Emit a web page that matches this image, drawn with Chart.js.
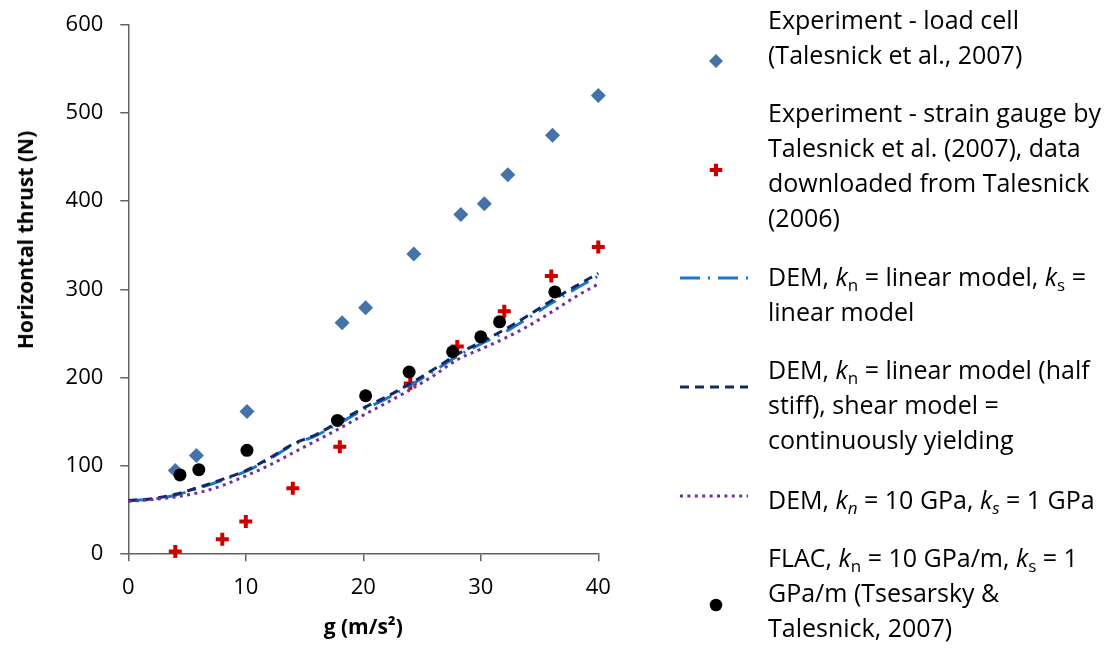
<!DOCTYPE html>
<html>
<head>
<meta charset="utf-8">
<script src="https://cdn.jsdelivr.net/npm/chart.js@4/dist/chart.umd.min.js"></script>
<style>
  body { margin: 0; background: #fff; font-family: "Open Sans", sans-serif; }
  #wrap { position: relative; width: 1113px; height: 650px; }
  #chart { position: absolute; left: 0; top: 0; }
  .lg { position: absolute; left: 768px; font-size: 25px; line-height: 35px; white-space: nowrap; color: #000; }
  .lg sub { font-size: 0.68em; vertical-align: -0.3em; line-height: 0; }
  #ytitle { position: absolute; left: 25px; top: 240px; transform: translate(-50%, -50%) rotate(-90deg);
            font-weight: bold; font-size: 21px; white-space: nowrap; }
</style>
</head>
<body>
<div id="wrap">
  <canvas id="chart" width="1113" height="650"></canvas>
  <div id="ytitle">Horizontal thrust (N)</div>
</div>
<script>
// experiment - load cell
var loadCellG = [4, 5.8, 10.1, 18.2, 20.2, 24.3, 28.3, 30.3, 32.3, 36.1, 40];
var loadCellN = [94, 111, 161, 262, 279, 340, 385, 397, 430, 475, 520];

// experiment - strain gauge
var gaugeG = [4, 8, 10, 14, 18, 24, 28, 32, 36, 40];
var gaugeN = [2, 16, 36, 74, 121, 193, 235, 275, 315, 348];

// FLAC
var flacG = [4.4, 6, 10.1, 17.8, 20.2, 23.9, 27.6, 30, 31.6, 36.3];
var flacN = [89, 95, 117, 151, 179, 206, 229, 246, 263, 297];

// DEM curves
var demG = [0, 2, 4, 6, 8, 10, 12, 14, 16, 18, 20, 22, 24, 26, 28, 30, 32, 34, 36, 38, 40];
var demLinear = [60, 61.5, 66, 74, 83, 93, 107, 123, 134, 148, 163, 176, 191, 207, 224, 238, 251, 267, 284, 300, 315];
var demHalfStiff = [60, 62, 67, 75, 84, 94, 108, 124, 135, 150, 165, 178, 193, 209, 226, 240, 254, 270, 287, 303, 318];
var demGPa = [59, 61, 64, 69, 77, 88, 100, 114, 128, 142, 157, 171, 186, 202, 220, 232, 244, 258, 274, 291, 306];

var xTicks = [0, 10, 20, 30, 40];
var yTicks = [0, 100, 200, 300, 400, 500, 600];

var legendText = [
  'Experiment - load cell<br>(Talesnick et al., 2007)',
  'Experiment - strain gauge by<br>Talesnick et al. (2007), data<br>downloaded from Talesnick<br>(2006)',
  'DEM, <i>k</i><sub>n</sub> = linear model, <i>k</i><sub>s</sub> =<br>linear model',
  'DEM, <i>k</i><sub>n</sub> = linear model (half<br>stiff), shear model =<br>continuously yielding',
  'DEM, <i>k<sub>n</sub></i> = 10 GPa, <i>k<sub>s</sub></i> = 1 GPa',
  'FLAC, <i>k</i><sub>n</sub> = 10 GPa/m, <i>k</i><sub>s</sub> = 1<br>GPa/m (Tsesarsky &amp;<br>Talesnick, 2007)'
];
// legend layout: text block top, marker y
var legendTop = [2, 95, 259, 352, 482, 540];
var legendMarkY = [61, 170, 278, 387, 496, 605];

function pts(xs, ys) {
  return xs.map(function(x, i) { return {x: x, y: ys[i]}; });
}

var axisColor = '#636363';

var datasets = [
  {
    label: 'load cell', data: pts(loadCellG, loadCellN), showLine: false, clip: false,
    pointStyle: 'rectRot', pointRadius: 7.5, backgroundColor: '#4572A7', borderColor: '#4572A7', borderWidth: 0, order: 5
  },
  {
    label: 'strain gauge', data: pts(gaugeG, gaugeN), showLine: false, clip: false,
    pointStyle: 'cross', pointRadius: 6.5, borderColor: '#CC0000', backgroundColor: '#CC0000', pointBorderWidth: 4, order: 4
  },
  {
    label: 'DEM linear', data: pts(demG, demLinear), showLine: true, pointRadius: 0, clip: false,
    borderColor: '#1A78CC', borderWidth: 3, borderDash: [20, 8, 2, 8], cubicInterpolationMode: 'monotone', order: 3
  },
  {
    label: 'DEM half stiff', data: pts(demG, demHalfStiff), showLine: true, pointRadius: 0, clip: false,
    borderColor: '#0E2A68', borderWidth: 3, borderDash: [9, 6], cubicInterpolationMode: 'monotone', order: 2
  },
  {
    label: 'DEM 10 GPa', data: pts(demG, demGPa), showLine: true, pointRadius: 0, clip: false,
    borderColor: '#7030A0', borderWidth: 3, borderDash: [3, 4.4], cubicInterpolationMode: 'monotone', order: 1
  },
  {
    label: 'FLAC', data: pts(flacG, flacN), showLine: false, clip: false,
    pointStyle: 'circle', pointRadius: 6.5, backgroundColor: '#000', borderColor: '#000', borderWidth: 0, order: 0
  }
];

var sideLegend = {
  id: 'sideLegend',
  afterDraw: function(chart) {
    var ctx = chart.ctx;
    var cx = 716, x0 = 680, x1 = 748;
    chart.data.datasets.forEach(function(ds, i) {
      var y = legendMarkY[i];
      ctx.save();
      if (ds.showLine) {
        ctx.strokeStyle = ds.borderColor;
        ctx.lineWidth = ds.borderWidth;
        ctx.setLineDash(ds.borderDash);
        ctx.beginPath();
        ctx.moveTo(x0, y);
        ctx.lineTo(x1, y);
        ctx.stroke();
      } else if (ds.pointStyle === 'rectRot') {
        var r = 7;
        ctx.fillStyle = ds.backgroundColor;
        ctx.beginPath();
        ctx.moveTo(cx, y - r); ctx.lineTo(cx + r, y); ctx.lineTo(cx, y + r); ctx.lineTo(cx - r, y);
        ctx.closePath();
        ctx.fill();
      } else if (ds.pointStyle === 'cross') {
        var c = 6.3;
        ctx.strokeStyle = ds.borderColor;
        ctx.lineWidth = 4;
        ctx.beginPath();
        ctx.moveTo(cx - c, y); ctx.lineTo(cx + c, y);
        ctx.moveTo(cx, y - c); ctx.lineTo(cx, y + c);
        ctx.stroke();
      } else {
        ctx.fillStyle = ds.backgroundColor;
        ctx.beginPath();
        ctx.arc(cx, y, 6.3, 0, Math.PI * 2);
        ctx.fill();
      }
      ctx.restore();
    });
  }
};

var tickFont = { family: 'Open Sans', size: 22 };
var titleFont = { family: 'Open Sans', size: 21, weight: 'bold' };

new Chart(document.getElementById('chart'), {
  type: 'scatter',
  data: { datasets: datasets },
  plugins: [sideLegend],
  options: {
    responsive: false,
    animation: false,
    layout: { autoPadding: false, padding: { left: 0, top: 25.2, right: 514.7, bottom: 0 } },
    plugins: { legend: { display: false }, tooltip: { enabled: false } },
    scales: {
      x: {
        type: 'linear', min: 0, max: 40,
        afterBuildTicks: function(s) { s.ticks = xTicks.map(function(v) { return {value: v}; }); },
        afterFit: function(s) { s.height = 96.7; },
        ticks: { font: tickFont, color: '#000', padding: 13, maxRotation: 0 },
        grid: { drawOnChartArea: false, drawTicks: true, tickLength: 8, color: axisColor, lineWidth: 1.5 },
        border: { color: axisColor, width: 1.5 },
        title: { display: true, text: 'g (m/s²)', font: titleFont, color: '#000', padding: { top: 0, bottom: 9 } }
      },
      y: {
        type: 'linear', min: 0, max: 600,
        afterBuildTicks: function(s) { s.ticks = yTicks.map(function(v) { return {value: v}; }); },
        // fixed axis width; label overhang must not push the plot area down
        afterFit: function(s) { s.width = 128.3; s.paddingTop = 0; s.paddingBottom = 0; },
        ticks: { font: tickFont, color: '#000', padding: 17 },
        grid: { drawOnChartArea: false, drawTicks: true, tickLength: 8, color: axisColor, lineWidth: 1.5 },
        border: { color: axisColor, width: 1.5 }
      }
    }
  }
});

var wrap = document.getElementById('wrap');
legendText.forEach(function(t, i) {
  var d = document.createElement('div');
  d.className = 'lg';
  d.style.top = legendTop[i] + 'px';
  d.innerHTML = t;
  wrap.appendChild(d);
});
</script>
</body>
</html>
